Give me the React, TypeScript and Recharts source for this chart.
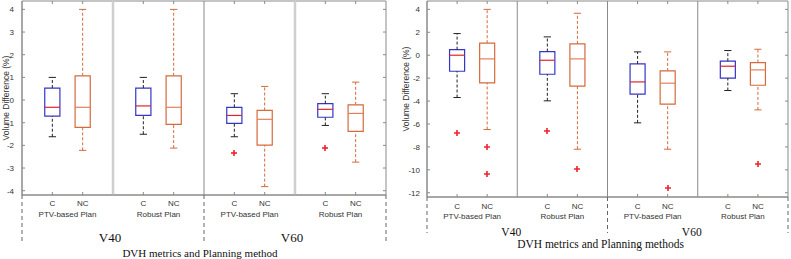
import React from 'react';
import { ComposedChart, XAxis, YAxis, Scatter, ReferenceArea, ReferenceLine } from 'recharts';

// box positions on the numeric x axis and their labels
const positions = [1, 2, 4, 5, 7, 8, 10, 11];
const methods = ['C', 'NC', 'C', 'NC', 'C', 'NC', 'C', 'NC'];
const planPositions = [1.5, 4.5, 7.5, 10.5];
const plans = ['PTV-based Plan', 'Robust Plan', 'PTV-based Plan', 'Robust Plan'];
const metricPositions = [3, 9];
const metrics = ['V40', 'V60'];
const dividers = [0, 6, 12];
const separators = [3, 6, 9];

// left panel
const leftLow = [-1.62, -2.22, -1.51, -2.12, -1.62, -3.82, -1.12, -2.74];
const leftQ1 = [-0.71, -1.21, -0.68, -1.07, -1.03, -1.99, -0.76, -1.38];
const leftMedian = [-0.32, -0.32, -0.26, -0.32, -0.68, -0.85, -0.41, -0.59];
const leftQ3 = [0.53, 1.07, 0.53, 1.07, -0.32, -0.46, -0.16, -0.21];
const leftHigh = [1.0, 4.0, 1.0, 4.0, 0.28, 0.6, 0.28, 0.79];
const leftOutlierBox = [4, 6];
const leftOutlierValue = [-2.32, -2.12];
const leftTicks = [-4, -3, -2, -1, 0, 1, 2, 3, 4];

// right panel
const rightLow = [-3.69, -6.48, -3.98, -8.2, -5.9, -8.2, -3.08, -4.77];
const rightQ1 = [-1.4, -2.41, -1.66, -2.7, -3.4, -4.27, -2.0, -2.62];
const rightMedian = [0, -0.32, -0.44, -0.32, -2.33, -2.44, -0.96, -1.28];
const rightQ3 = [0.49, 1.05, 0.32, 0.99, -0.76, -1.37, -0.52, -0.64];
const rightHigh = [1.89, 4.0, 1.6, 3.66, 0.29, 0.29, 0.41, 0.52];
const rightOutlierBox = [0, 1, 1, 2, 3, 5, 7];
const rightOutlierValue = [-6.8, -7.97, -10.38, -6.6, -9.97, -11.6, -9.48];
const rightTicks = [-12, -10, -8, -6, -4, -2, 0, 2, 4];

const C_BOX = '#3535c8';
const NC_BOX = '#d56a3c';
const C_MED = '#e0242c';
const NC_MED = '#e47f5c';
const OUTLIER = '#f0202c';
const AXIS = '#8a8a8a';
const SANS = '"Liberation Sans", Arial, sans-serif';
const SERIF = '"Liberation Serif", "Times New Roman", serif';

const xTicks = [...dividers, ...positions, ...planPositions, ...metricPositions].sort((a, b) => a - b);

const Plus = (props: any) => {
  const cx = Math.round(props.cx);
  const cy = Math.round(props.cy);
  return (
    <g>
      <line x1={cx - 3} x2={cx + 3} y1={cy} y2={cy} stroke={OUTLIER} strokeWidth={1.6} />
      <line x1={cx} x2={cx} y1={cy - 3} y2={cy + 3} stroke={OUTLIER} strokeWidth={1.6} />
    </g>
  );
};

const Panel = ({ cfg }: { cfg: any }) => {
  const { low, q1, median, q3, high, outlierBox, outlierValue, yTicks, domain } = cfg;
  const outliers = outlierBox.map((b: number, i: number) => ({ x: positions[b], y: outlierValue[i] }));
  const plotTop = cfg.margin.top;
  const plotRight = cfg.width - cfg.margin.right;

  const elements: any[] = [];
  separators.forEach((s, i) => {
    const st = cfg.separatorStyle[i];
    elements.push(<ReferenceLine key={'sep' + i} x={s} stroke={st.color} strokeWidth={st.width} />);
  });
  positions.forEach((p, i) => {
    const isC = methods[i] === 'C';
    const box = isC ? C_BOX : NC_BOX;
    const whisk = isC ? '#222' : NC_BOX;
    elements.push(
      <ReferenceLine key={'wu' + i} segment={[{ x: p, y: q3[i] }, { x: p, y: high[i] }]} stroke={whisk} strokeDasharray="3 2" />,
      <ReferenceLine key={'wl' + i} segment={[{ x: p, y: low[i] }, { x: p, y: q1[i] }]} stroke={whisk} strokeDasharray="3 2" />,
      <ReferenceLine key={'cu' + i} segment={[{ x: p - 0.12, y: high[i] }, { x: p + 0.12, y: high[i] }]} stroke={whisk} />,
      <ReferenceLine key={'cl' + i} segment={[{ x: p - 0.12, y: low[i] }, { x: p + 0.12, y: low[i] }]} stroke={whisk} />,
      <ReferenceArea key={'b' + i} x1={p - 0.25} x2={p + 0.25} y1={q1[i]} y2={q3[i]} fill="#fff" fillOpacity={0} stroke={box} strokeWidth={1.2} />,
      <ReferenceLine key={'m' + i} segment={[{ x: p - 0.25, y: median[i] }, { x: p + 0.25, y: median[i] }]} stroke={isC ? C_MED : NC_MED} strokeWidth={1.2} />
    );
  });
  elements.push(
    <ReferenceArea key="frame" x1={0} x2={12} y1={domain[0]} y2={domain[1]} fillOpacity={0} stroke={AXIS} strokeWidth={1} />
  );

  const YTick = (props: any) => {
    const { x, y, payload } = props;
    const ax = x + cfg.yTickMargin;
    return (
      <g>
        <text x={x} y={y} dy={3} textAnchor="end" fontSize={8} fill="#333" fontFamily={SANS}>{payload.value}</text>
        <line x1={ax} x2={ax + 3} y1={y} y2={y} stroke={AXIS} />
        <line x1={plotRight - 3} x2={plotRight} y1={y} y2={y} stroke={AXIS} />
      </g>
    );
  };

  const XTick = (props: any) => {
    const { x, y, payload } = props;
    const v = payload.value;
    const pi = positions.indexOf(v);
    if (pi >= 0) {
      return (
        <g>
          <line x1={x} x2={x} y1={y} y2={y - 3} stroke={AXIS} />
          <line x1={x} x2={x} y1={plotTop} y2={plotTop + 3} stroke={AXIS} />
          <text x={x} y={y + cfg.methodY} textAnchor="middle" fontSize={8} fill="#333" fontFamily={SANS}>{methods[pi]}</text>
        </g>
      );
    }
    const gi = planPositions.indexOf(v);
    if (gi >= 0) {
      return <text x={x} y={y + cfg.planY} textAnchor="middle" fontSize={8} fill="#333" fontFamily={SANS}>{plans[gi]}</text>;
    }
    const mi = metricPositions.indexOf(v);
    if (mi >= 0) {
      return <text x={x + cfg.metricDx} y={y + cfg.metricY} textAnchor="middle" fontSize={cfg.metricSize} fill="#111" fontFamily={SERIF}>{metrics[mi]}</text>;
    }
    return (
      <g>
        <line x1={x} x2={x} y1={y} y2={y + cfg.dashLen} stroke="#666" strokeDasharray="4 3" />
        {v === 6 && (
          <text x={x + cfg.titleDx} y={y + cfg.titleY} textAnchor="middle" fontSize={cfg.titleSize} fill="#111" fontFamily={SERIF}>{cfg.title}</text>
        )}
      </g>
    );
  };

  return (
    <ComposedChart width={cfg.width} height={259} margin={cfg.margin}>
      <XAxis type="number" dataKey="x" domain={[0, 12]} ticks={xTicks} interval={0} height={cfg.xHeight}
        axisLine={{ stroke: AXIS }} tickLine={false} tickSize={0} tickMargin={0} tick={XTick} />
      <YAxis type="number" dataKey="y" domain={domain} ticks={yTicks} interval={0} width={cfg.yWidth} allowDataOverflow
        axisLine={{ stroke: AXIS }} tickLine={false} tickSize={0} tickMargin={cfg.yTickMargin} tick={YTick}
        label={{ value: 'Volume Difference (%)', angle: -90, position: 'center', dx: cfg.labelDx, dy: cfg.labelDy, fontSize: 8.5, fill: '#333', fontFamily: SANS }} />
      {elements}
      <Scatter data={outliers} shape={Plus} fill={OUTLIER} isAnimationActive={false} />
    </ComposedChart>
  );
};

const leftCfg = {
  low: leftLow, q1: leftQ1, median: leftMedian, q3: leftQ3, high: leftHigh,
  outlierBox: leftOutlierBox, outlierValue: leftOutlierValue, yTicks: leftTicks,
  domain: [-4.19, 4.37], width: 395, margin: { top: 1, right: 9, bottom: 0, left: 0 },
  xHeight: 64, yWidth: 22, yTickMargin: 8, labelDx: -5, labelDy: 0,
  separatorStyle: [{ color: '#cfcfcf', width: 2.5 }, { color: '#8a8a8a', width: 1 }, { color: '#cfcfcf', width: 2.5 }],
  methodY: 11, planY: 22, metricY: 47, metricSize: 13, metricDx: -3, dashLen: 48,
  titleY: 62, titleSize: 11, titleDx: -4, title: 'DVH metrics and Planning method',
};

const rightCfg = {
  low: rightLow, q1: rightQ1, median: rightMedian, q3: rightQ3, high: rightHigh,
  outlierBox: rightOutlierBox, outlierValue: rightOutlierValue, yTicks: rightTicks,
  domain: [-12.37, 4.73], width: 396, margin: { top: 1, right: 3, bottom: 0, left: 0 },
  xHeight: 62, yWidth: 32, yTickMargin: 7, labelDx: -5, labelDy: -10,
  separatorStyle: [{ color: '#8a8a8a', width: 1 }, { color: '#8a8a8a', width: 1 }, { color: '#8a8a8a', width: 1 }],
  methodY: 11.5, planY: 21.5, metricY: 38.5, metricSize: 11.5, metricDx: -6, dashLen: 36,
  titleY: 51, titleSize: 11.5, titleDx: -7, title: 'DVH metrics and Planning methods',
};

export default function App() {
  return (
    <div style={{ position: 'absolute', left: 0, top: 0, width: 791, height: 259, background: '#fff' }}>
      <div style={{ position: 'absolute', left: 0, top: 0 }}>
        <Panel cfg={leftCfg} />
      </div>
      <div style={{ position: 'absolute', left: 395, top: 0 }}>
        <Panel cfg={rightCfg} />
      </div>
    </div>
  );
}
